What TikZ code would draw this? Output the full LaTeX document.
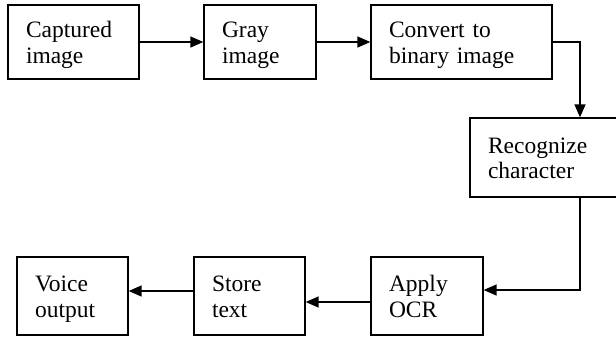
\documentclass[tikz,border=0pt]{standalone}
\usepackage{fontspec}
\setmainfont{Liberation Serif}
\usetikzlibrary{arrows.meta}
\newcommand\twoline[2]{\rule{0pt}{23pt}#1\\#2\rule[-6pt]{0pt}{6pt}}
\begin{document}
\begin{tikzpicture}[x=1pt,y=-1pt,
  box/.style={draw, line width=1.3pt, inner xsep=18pt, inner ysep=0pt, align=left,
    font=\fontsize{23.5}{25.5}\selectfont},
  arr/.style={line width=1.4pt, -{Triangle[length=13pt,width=11pt]}}]
\useasboundingbox (0,0) rectangle (616,338);
\node[box, text width=95pt, minimum height=74pt] (a) at (73.5,42) {\twoline{Captured}{image}};
\node[box, text width=76pt, minimum height=74pt] (b) at (260,42) {\twoline{Gray}{image}};
\node[box, text width=145pt, minimum height=74pt] (c) at (461.5,42) {\twoline{Convert to}{binary image}};
\node[box, text width=184pt, minimum height=79pt] (d) at (580,157.5) {\twoline{Recognize}{character}};
\node[box, text width=76pt, minimum height=78pt] (g) at (427,296) {\twoline{Apply}{OCR}};
\node[box, text width=75pt, minimum height=78pt] (f) at (249.5,296) {\twoline{Store}{text}};
\node[box, text width=75pt, minimum height=78pt] (e) at (72.5,296) {\twoline{Voice}{output}};
\draw[arr] (a.east) -- (b.west);
\draw[arr] (b.east) -- (c.west);
\draw[arr] (c.east) -| (d.north);
\draw[arr] (d.south) |- ([yshift=6pt]g.east);
\draw[arr] ([yshift=-6pt]g.west) -- ([yshift=-6pt]f.east);
\draw[arr] ([yshift=5pt]f.west) -- ([yshift=5pt]e.east);
\end{tikzpicture}
\end{document}
